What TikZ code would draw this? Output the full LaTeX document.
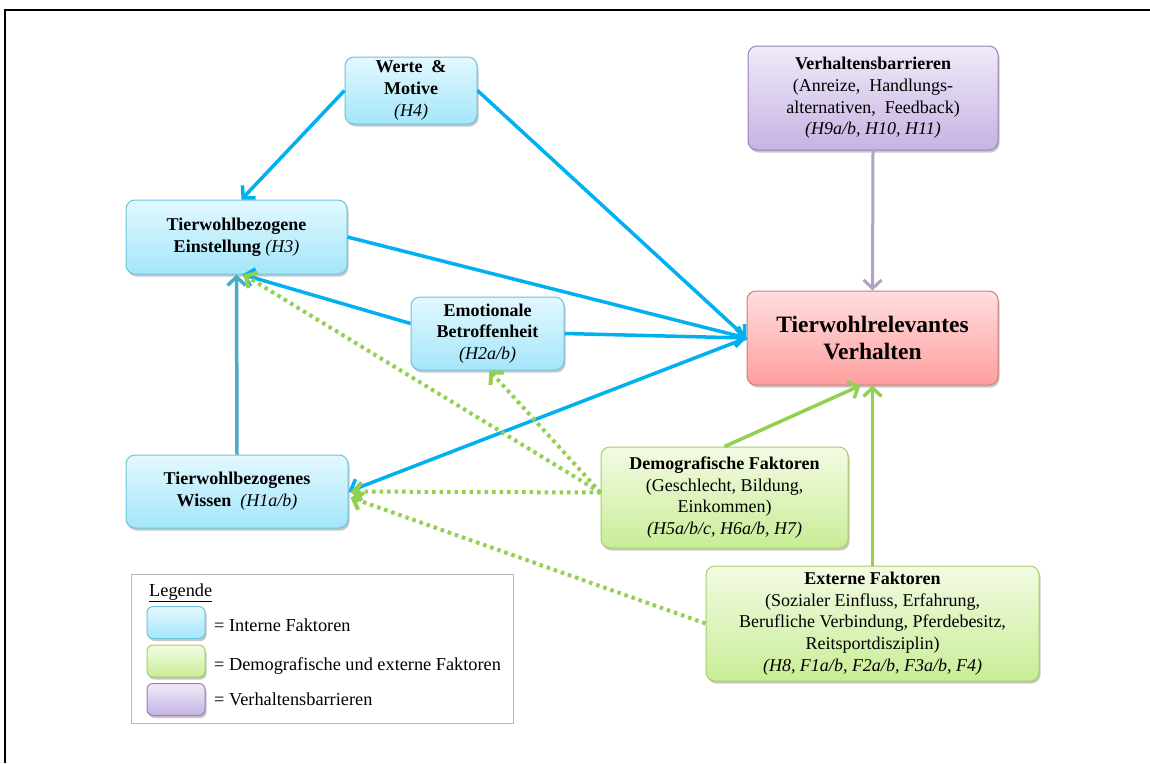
\documentclass[tikz,border=0pt]{standalone}
\usepackage{fontspec}
\setmainfont{Liberation Serif}
\usetikzlibrary{arrows.meta,shadows,calc}
\definecolor{blueline}{HTML}{00B0F0}
\definecolor{tealline}{HTML}{4BACC6}
\definecolor{greenline}{HTML}{92D050}
\definecolor{purpline}{HTML}{B3A2C7}
\definecolor{ibord}{HTML}{6CC3DC}
\definecolor{itop}{HTML}{E3F8FE}
\definecolor{ibot}{HTML}{A3E6FA}
\definecolor{rbord}{HTML}{D07C7A}
\definecolor{rtop}{HTML}{FFDEDE}
\definecolor{rbot}{HTML}{FF9E9E}
\definecolor{gbord}{HTML}{A4CF64}
\definecolor{gtop}{HTML}{F3FBE4}
\definecolor{gbot}{HTML}{C9ED96}
\definecolor{pbord}{HTML}{9A80BD}
\definecolor{ptop}{HTML}{F0EAF8}
\definecolor{pbot}{HTML}{C6B3E3}
\tikzset{
  box/.style={rectangle, rounded corners=9pt, inner sep=0pt, align=center,
    line width=1pt, font=\fontsize{18}{21.7}\selectfont,
    drop shadow={shadow xshift=1.5pt, shadow yshift=-2.5pt, opacity=0.3, fill=black!70}},
  intern/.style={box, draw=ibord, top color=itop, bottom color=ibot},
  target/.style={box, draw=rbord, top color=rtop, bottom color=rbot},
  extern/.style={box, draw=gbord, top color=gtop, bottom color=gbot},
  barrier/.style={box, draw=pbord, top color=ptop, bottom color=pbot},
  tip/.style={-{Straight Barb[length=8.5pt,width=18pt]}},
  bluearr/.style={tip, draw=blueline, line width=3.5pt},
  tealarr/.style={tip, draw=tealline, line width=3.5pt},
  purparr/.style={tip, draw=purpline, line width=3pt},
  greenarr/.style={tip, draw=greenline, line width=3.5pt},
  greendot/.style={tip, draw=greenline, line width=4pt, dash pattern=on 3.5pt off 4pt},
  legtext/.style={anchor=base west, font=\fontsize{18.3}{21}\selectfont, inner sep=0pt}
}
\begin{document}
\begin{tikzpicture}[x=1pt,y=-1pt]
\useasboundingbox (0,0) rectangle (1150,763);
\fill[white] (0,0) rectangle (1150,763);
\draw[line width=2pt] (5,763) -- (5,10) -- (1150,10);

% nodes
\node[intern, minimum width=132, minimum height=67] (werte) at (411,90.5)
  {\textbf{Werte \ \&}\\\textbf{Motive}\\\textit{(H4)}};
\node[barrier, minimum width=250, minimum height=104] (barr) at (873,98)
  {\textbf{Verhaltensbarrieren}\\(Anreize, \ Handlungs-\\alternativen, \ Feedback)\\\textit{(H9a/b, H10, H11)}};
\node[intern, minimum width=221, minimum height=74] (einst) at (236.5,237)
  {\textbf{Tierwohlbezogene}\\\textbf{Einstellung} \textit{(H3)}};
\node[intern, minimum width=153, minimum height=73] (emo) at (487.5,333.5)
  {\textbf{Emotionale}\\\textbf{Betroffenheit}\\\textit{(H2a/b)}};
\node[target, minimum width=251, minimum height=94, font=\fontsize{23.5}{27.5}\selectfont\bfseries] (verh) at (872.5,338)
  {Tierwohlrelevantes\\Verhalten};
\node[intern, minimum width=222, minimum height=73] (wissen) at (237,491.5)
  {\textbf{Tierwohlbezogenes}\\\textbf{Wissen}\enspace\textit{(H1a/b)}};
\node[extern, minimum width=247, minimum height=101] (demo) at (724.5,497.5)
  {\textbf{Demografische Faktoren}\\(Geschlecht, Bildung,\\Einkommen)\\\textit{(H5a/b/c, H6a/b, H7)}};
\node[extern, minimum width=333, minimum height=115] (ext) at (872.5,623.5)
  {\textbf{Externe Faktoren}\\(Sozialer Einfluss, Erfahrung,\\Berufliche Verbindung, Pferdebesitz,\\Reitsportdisziplin)\\\textit{(H8, F1a/b, F2a/b, F3a/b, F4)}};

% connectors
\draw[bluearr] (werte.west) -- ([xshift=5pt]einst.north);
\draw[bluearr] (werte.east) -- (verh.west);
\draw[bluearr] (einst.east) -- (verh.west);
\draw[bluearr] ([yshift=10pt]emo.west) -- ([xshift=6pt]einst.south);
\draw[bluearr] (emo.east) -- (verh.west);
\draw[bluearr] (verh.west) -- (wissen.east);
\draw[tealarr] (wissen.north) -- (einst.south);
\draw[purparr] (barr.south) -- (verh.north);
\draw[greenarr] (demo.north) -- ([xshift=-12pt]verh.south);
\draw[greenarr] (ext.north) -- (verh.south);
\coordinate (dw) at ([yshift=5pt]demo.west);
\draw[greendot] (dw) -- ([xshift=7pt]einst.south);
\draw[greendot] (dw) -- ([xshift=2pt]emo.south);
\draw[greendot] (dw) -- ([xshift=2pt]wissen.east);
\draw[greendot] (ext.west) -- ([xshift=2pt,yshift=-6pt]wissen.east);

% legend
\node[draw=gray!55, line width=0.7pt, minimum width=382, minimum height=149, inner sep=0pt] (leg) at (322,648.5) {};
\node[legtext] (legt) at (149,596) {\underline{Legende}};
\node[intern, rounded corners=6pt, minimum width=58, minimum height=32] (s1) at (176,622.5) {};
\node[extern, rounded corners=6pt, minimum width=58, minimum height=32] (s2) at (176,661) {};
\node[barrier, rounded corners=6pt, minimum width=58, minimum height=32] (s3) at (176,699.5) {};
\node[legtext] (l1) at (214,631) {= Interne Faktoren};
\node[legtext] (l2) at (214,670) {= Demografische und externe Faktoren};
\node[legtext] (l3) at (214,705) {= Verhaltensbarrieren};
\end{tikzpicture}
\end{document}
